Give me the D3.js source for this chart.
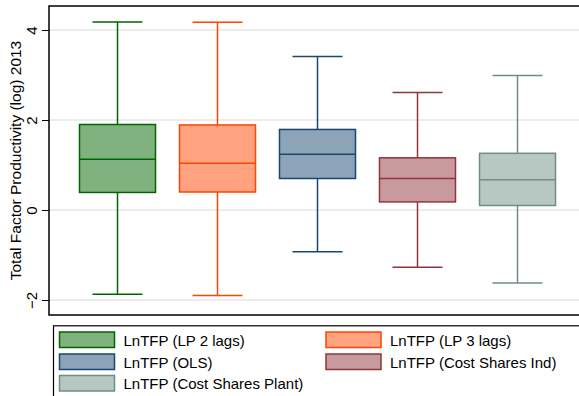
<!DOCTYPE html>
<html>
<head>
<meta charset="utf-8">
<script src="https://cdn.jsdelivr.net/npm/d3@7"></script>
<style>
  html, body { margin: 0; padding: 0; background: #fff; }
  svg { display: block; font-family: "Liberation Sans", Arial, Helvetica, sans-serif; }
</style>
</head>
<body>
<svg id="chart" width="579" height="396"></svg>
<script>
// Box plot summaries of log TFP (2013) by estimation method
const series = [
  "LnTFP (LP 2 lags)",
  "LnTFP (LP 3 lags)",
  "LnTFP (OLS)",
  "LnTFP (Cost Shares Ind)",
  "LnTFP (Cost Shares Plant)"
];
const lowerWhisker = [-1.87, -1.90, -0.93, -1.27, -1.62];
const q1           = [ 0.39,  0.40,  0.70,  0.18,  0.10];
const median       = [ 1.13,  1.04,  1.24,  0.70,  0.67];
const q3           = [ 1.90,  1.89,  1.79,  1.16,  1.26];
const upperWhisker = [ 4.18,  4.17,  3.41,  2.61,  2.99];
const yTicks = [-2, 0, 2, 4];

const strokeColors = ["#006400", "#ff4500", "#1a476f", "#90353b", "#6e8e84"];
const fillColors = strokeColors.map(c => d3.interpolateRgb(c, "#ffffff")(0.5));

const svg = d3.select("#chart");
const plot = { left: 49, right: 586, top: 6, bottom: 315 };

const x = d3.scalePoint()
  .domain(series)
  .range([plot.left, plot.right])
  .padding(0.685);

const y = d3.scaleLinear()
  .domain([-2, 4])
  .range([300, 30]);

const boxW = 76, capW = 50;

// grid lines
svg.append("g")
  .selectAll("line")
  .data(yTicks)
  .join("line")
  .attr("x1", plot.left).attr("x2", plot.right)
  .attr("y1", d => y(d)).attr("y2", d => y(d))
  .attr("stroke", "#e6e6e6")
  .attr("stroke-width", 1.5);

// y axis ticks and labels
const yAxis = d3.axisLeft(y)
  .tickValues(yTicks)
  .tickSize(7)
  .tickPadding(4)
  .tickFormat(d => d < 0 ? "\u2212" + Math.abs(d) : String(d));

const gy = svg.append("g")
  .attr("transform", `translate(${plot.left},0)`)
  .call(yAxis);
gy.select(".domain").remove();
gy.selectAll(".tick line").attr("stroke", "#000").attr("stroke-width", 1);
gy.selectAll(".tick text")
  .attr("font-size", 15)
  .attr("fill", "#000")
  .attr("text-anchor", "middle")
  .attr("dy", null)
  .attr("x", null)
  .attr("transform", "translate(-12.5,0) rotate(-90)");

// axis title
svg.append("text")
  .attr("transform", `translate(21,${(plot.top + plot.bottom) / 2}) rotate(-90)`)
  .attr("text-anchor", "middle")
  .attr("font-size", 15.5)
  .attr("fill", "#000")
  .text("Total Factor Productivity (log) 2013");

// boxes
const data = series.map((name, i) => ({
  name, i,
  lo: lowerWhisker[i], q1: q1[i], med: median[i], q3: q3[i], hi: upperWhisker[i]
}));

const g = svg.append("g")
  .selectAll("g")
  .data(data)
  .join("g")
  .attr("stroke", d => strokeColors[d.i])
  .attr("stroke-width", 1.5)
  .attr("fill", "none");

// whiskers
g.append("line")
  .attr("x1", d => x(d.name)).attr("x2", d => x(d.name))
  .attr("y1", d => y(d.hi)).attr("y2", d => y(d.q3));
g.append("line")
  .attr("x1", d => x(d.name)).attr("x2", d => x(d.name))
  .attr("y1", d => y(d.q1)).attr("y2", d => y(d.lo));
// caps
g.append("line")
  .attr("x1", d => x(d.name) - capW / 2).attr("x2", d => x(d.name) + capW / 2)
  .attr("y1", d => y(d.hi)).attr("y2", d => y(d.hi));
g.append("line")
  .attr("x1", d => x(d.name) - capW / 2).attr("x2", d => x(d.name) + capW / 2)
  .attr("y1", d => y(d.lo)).attr("y2", d => y(d.lo));
// box
g.append("rect")
  .attr("x", d => x(d.name) - boxW / 2)
  .attr("width", boxW)
  .attr("y", d => y(d.q3))
  .attr("height", d => y(d.q1) - y(d.q3))
  .attr("fill", d => fillColors[d.i]);
// median
g.append("line")
  .attr("x1", d => x(d.name) - boxW / 2).attr("x2", d => x(d.name) + boxW / 2)
  .attr("y1", d => y(d.med)).attr("y2", d => y(d.med));

// plot frame
svg.append("rect")
  .attr("x", plot.left).attr("y", plot.top)
  .attr("width", plot.right - plot.left).attr("height", plot.bottom - plot.top)
  .attr("fill", "none").attr("stroke", "#000").attr("stroke-width", 1.5);

// legend
const legend = svg.append("g");
legend.append("rect")
  .attr("x", 53.5).attr("y", 325.8)
  .attr("width", 540).attr("height", 80)
  .attr("fill", "#fff").attr("stroke", "#000").attr("stroke-width", 1.2);

const colX = [59.5, 326];
const rowY = [332, 354, 375.5];
const items = legend.selectAll("g.item")
  .data(data)
  .join("g")
  .attr("class", "item")
  .attr("transform", d => `translate(${colX[d.i % 2]},${rowY[Math.floor(d.i / 2)]})`);

items.append("rect")
  .attr("width", 55).attr("height", 15.5)
  .attr("fill", d => fillColors[d.i])
  .attr("stroke", d => strokeColors[d.i])
  .attr("stroke-width", 1.5);

items.append("text")
  .attr("x", 64)
  .attr("y", 13.5)
  .attr("font-size", 15)
  .attr("fill", "#000")
  .text(d => d.name);
</script>
</body>
</html>
